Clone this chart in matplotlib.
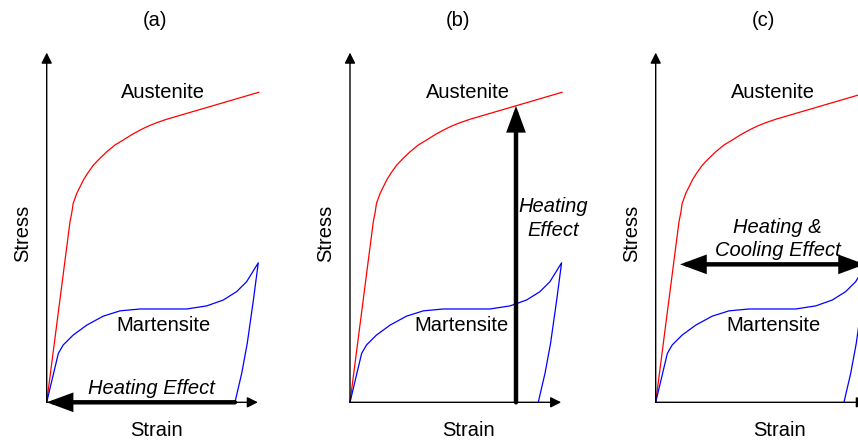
import matplotlib
matplotlib.use("Agg")
import matplotlib.pyplot as plt

plt.rcParams['font.family'] = ['Liberation Sans', 'DejaVu Sans']

# austenite loading curve (strain, stress), arbitrary units 0-100
aus_strain = [0, 11.0, 11.8, 12.5, 14.2, 17.3, 19.3, 22.0, 25.1, 28.3, 32.2,
              36.1, 39.8, 44.0, 47.9, 51.9, 56.6, 100.0]
aus_stress = [0, 58.3, 61.0, 64.2, 67.4, 71.7, 73.9, 76.5, 78.7, 80.8, 83.0,
              84.6, 86.2, 87.8, 89.1, 90.2, 91.3, 100.0]

# martensite loading + unloading
mar_strain = [0, 5.5, 7.8, 12.5, 18.9, 26.7, 34.6, 44.0, 66.0, 75.5, 83.3,
              89.6, 94.3, 99.8, 97.5, 94.6, 92.0, 88.8]
mar_stress = [0, 15.8, 18.5, 21.7, 24.9, 27.8, 29.5, 30.1, 30.1, 31.1, 33.0,
              35.7, 38.9, 45.0, 33.0, 19.0, 9.4, 0]

panels = ['(a)', '(b)', '(c)']
panel_left_px = [0.7, 304.0, 609.7]

# effect arrows: (start, end) points in strain/stress units
heat_a = ((88.8, 0), (0, 0))
heat_b = ((78.3, 0), (78.3, 95.6))
heat_cool_c = ((11.5, 44.5), (98.7, 44.5))

W, H = 858, 441
PX_X, PX_Y = 2.12, 3.1
ORIGIN_X, ORIGIN_Y = 46.0, 402.3

fig = plt.figure(figsize=(W / 100, H / 100), dpi=100)

fs = 14.5
arrow_head = dict(arrowstyle='-|>', mutation_scale=16, lw=1, color='black',
                  shrinkA=0, shrinkB=0)


def big_arrow(ax, p0, p1, style='-|>'):
    ax.annotate('', xy=p1, xytext=p0,
                arrowprops=dict(arrowstyle=style + ',head_length=0.65,head_width=0.24',
                                mutation_scale=20, lw=3.2, color='black',
                                shrinkA=0, shrinkB=0, joinstyle='miter'),
                annotation_clip=False)


for i, name in enumerate(panels):
    left = panel_left_px[i]
    width = 300
    ax = fig.add_axes([left / W, 0, width / W, 1])
    ax.set_xlim(-ORIGIN_X / PX_X, (width - ORIGIN_X) / PX_X)
    ax.set_ylim(-(H - ORIGIN_Y) / PX_Y, ORIGIN_Y / PX_Y)
    ax.axis('off')

    # axes with arrow heads
    ax.annotate('', xy=(0, 112.8), xytext=(0, 0), arrowprops=arrow_head,
                annotation_clip=False)
    ax.annotate('', xy=(99.6, 0), xytext=(0, 0), arrowprops=arrow_head,
                annotation_clip=False)

    ax.plot(aus_strain, aus_stress, color='#ff0000', lw=0.9, clip_on=False)
    ax.plot(mar_strain, mar_stress, color='#0000ff', lw=0.9, clip_on=False)

    ax.text(51.0, 123.3, name, ha='center', va='center', fontsize=fs)
    ax.text([52.0, 55.7, 58.6][i], -9.0, 'Strain', ha='center', va='center', fontsize=fs)
    ax.text(-11.4, 54.6, 'Stress', ha='center', va='center', rotation=90, fontsize=fs)
    ax.text([54.9, 55.7, 55.5][i], 100.0, 'Austenite', ha='center', va='center', fontsize=fs)
    ax.text([54.9, 52.8, 55.5][i], 24.9, 'Martensite', ha='center', va='center', fontsize=fs)

    if i == 0:
        big_arrow(ax, *heat_a)
        ax.text(49.6, 4.6, 'Heating Effect', ha='center', va='center',
                fontsize=fs, style='italic')
    elif i == 1:
        big_arrow(ax, *heat_b)
        ax.text(95.8, 59.3, 'Heating\nEffect', ha='center', va='center',
                fontsize=fs, style='italic', linespacing=1.3)
    else:
        big_arrow(ax, *heat_cool_c, style='<|-|>')
        ax.text(57.4, 52.6, 'Heating &\nCooling Effect', ha='center', va='center',
                fontsize=fs, style='italic', linespacing=1.25)

fig.savefig('out.png', dpi=100)
